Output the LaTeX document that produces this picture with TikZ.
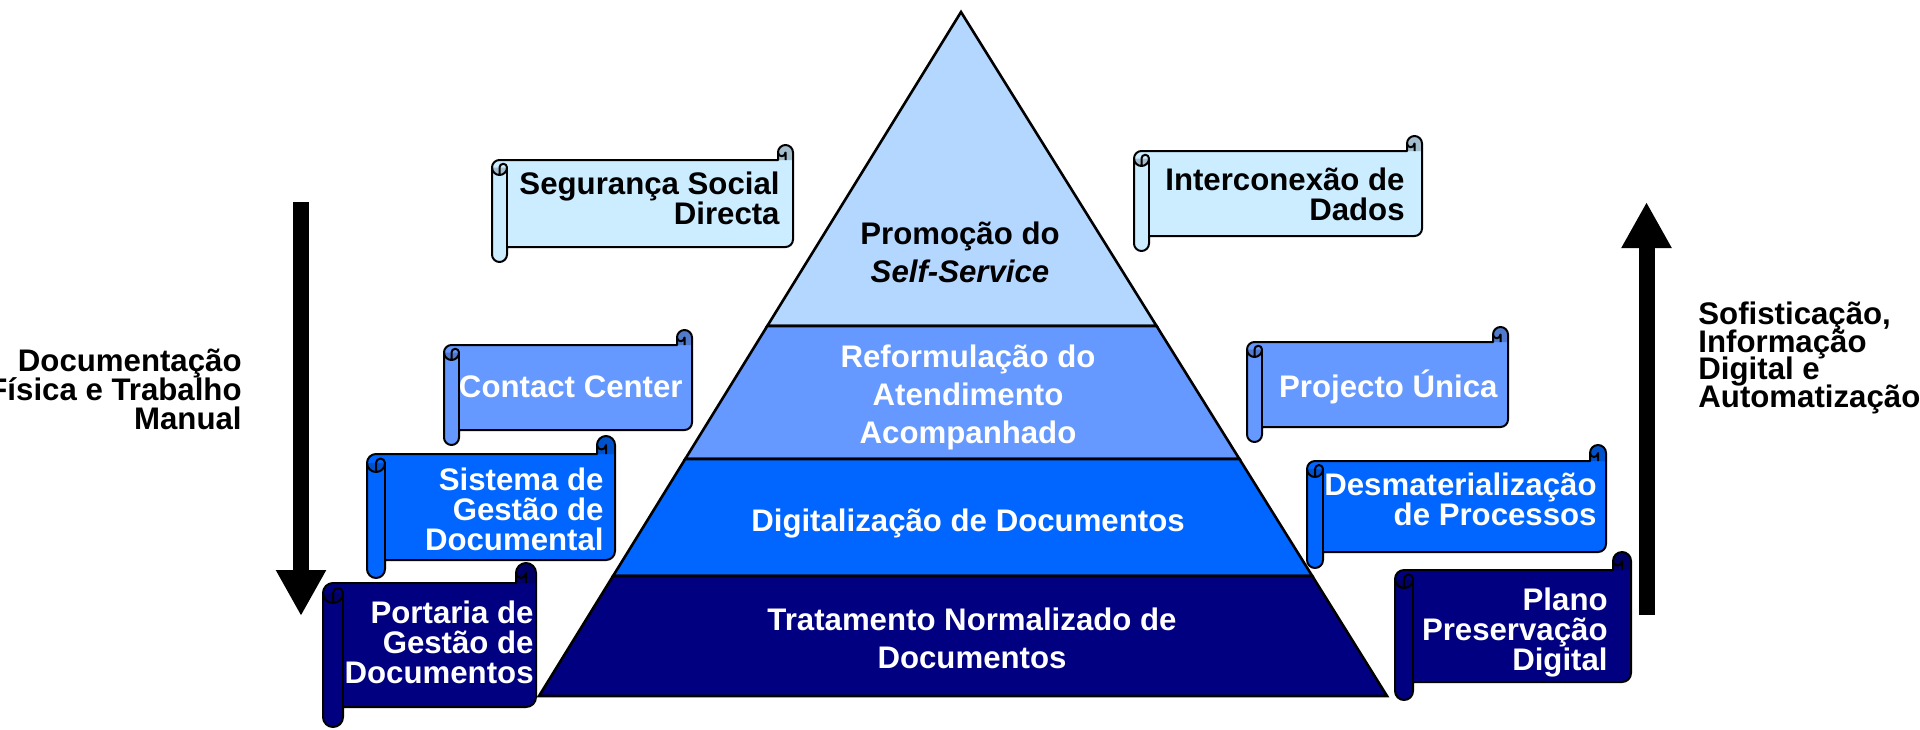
\documentclass[tikz,border=0pt]{standalone}
\usepackage{fontspec}
\setmainfont{Liberation Sans}
\usetikzlibrary{calc,arrows.meta}
\usepackage{xcolor}
\definecolor{lvlA}{HTML}{B4D7FF}
\definecolor{lvlB}{HTML}{6699FF}
\definecolor{lvlC}{HTML}{0066FF}
\definecolor{lvlD}{HTML}{000080}
\definecolor{paleA}{HTML}{CCECFF}
\definecolor{paleAdark}{HTML}{A3BDCC}
\definecolor{lvlBdark}{HTML}{527ACC}
\definecolor{lvlCdark}{HTML}{0052CC}
\definecolor{lvlDdark}{HTML}{000066}
\setlength{\lineskiplimit}{-100pt}

% scroll banner: left, top, right, bottom, roll size, fill, curl fill
\newcommand\scrollshape[7]{%
  \pgfmathsetmacro\sL{#1}\pgfmathsetmacro\sT{#2}%
  \pgfmathsetmacro\sR{#3}\pgfmathsetmacro\sB{#4}%
  \pgfmathsetmacro\sC{#5}\pgfmathsetmacro\sH{#5/2}\pgfmathsetmacro\sQ{#5/4}%
  \def\scrollpath{(\sL,\sT+1.5*\sC) arc[start angle=180,delta angle=90,radius=\sH]
    -- (\sR-\sC,\sT+\sC) -- (\sR-\sC,\sT+\sH)
    arc[start angle=180,delta angle=180,radius=\sH]
    -- (\sR,\sB-1.5*\sC) arc[start angle=0,delta angle=90,radius=\sH]
    -- (\sL+\sC,\sB-\sC) -- (\sL+\sC,\sB-\sH)
    arc[start angle=0,delta angle=180,radius=\sH] -- cycle}%
  \fill[#6] \scrollpath;
  \fill[#7] (\sR-\sC,\sT+\sC) -- (\sR-\sC,\sT+\sH)
    arc[start angle=180,delta angle=180,radius=\sH] -- (\sR,\sT+\sC) -- cycle;
  \fill[#7] (\sL+\sC,\sT+1.5*\sC) arc[start angle=0,delta angle=180,radius=\sH] -- cycle;
  \draw[scrollline] \scrollpath;
  \draw[scrollline] (\sR-\sH,\sT+\sC) -- (\sR-\sH,\sT+\sH)
    arc[start angle=0,delta angle=180,radius=\sQ];
  \draw[scrollline] (\sL+\sH,\sT+2*\sC) -- (\sL+\sH,\sT+1.5*\sC)
    arc[start angle=180,delta angle=180,radius=\sQ]
    arc[start angle=0,delta angle=180,radius=\sH];
  \draw[scrollline] (\sL+\sC,\sT+1.5*\sC) -- (\sL+\sC,\sB-\sC);
}

\begin{document}
\begin{tikzpicture}[
    x=0.5pt, y=-0.5pt,
 band/.style = {
        draw=black, line width=1.3pt, line join=miter},
 scrollline/.style = {
        draw=black, line width=1pt, line join=round},
 scrolltext/.style = {
        font=\bfseries\fontsize{15.6}{15}\selectfont,
        align=right, inner sep=0pt, text=white, anchor=east},
 pyrtext/.style = {
        font=\bfseries\fontsize{15.6}{19}\selectfont,
        align=center, inner sep=0pt, text=white},
 sidetext/.style = {
        font=\bfseries\fontsize{15.6}{14.5}\selectfont,
        inner sep=0pt, text=black},
 bigarrow/.style = {
        line width=8pt, -{Triangle[length=23pt,width=23.5pt]}}
                    ]
\useasboundingbox (0,0) rectangle (1920,729);

% the pyramid
\coordinate (apex) at (961,12);
\coordinate (bl) at (539,696);
\coordinate (br) at (1387,696);
\coordinate (l1) at ($(apex)!0.4591!(bl)$);
\coordinate (r1) at ($(apex)!0.4591!(br)$);
\coordinate (l2) at ($(apex)!0.6535!(bl)$);
\coordinate (r2) at ($(apex)!0.6535!(br)$);
\coordinate (l3) at ($(apex)!0.8246!(bl)$);
\coordinate (r3) at ($(apex)!0.8246!(br)$);
\filldraw[band,fill=lvlA] (apex) -- (l1) -- (r1) -- cycle;
\filldraw[band,fill=lvlB] (l1) -- (l2) -- (r2) -- (r1) -- cycle;
\filldraw[band,fill=lvlC] (l2) -- (l3) -- (r3) -- (r2) -- cycle;
\filldraw[band,fill=lvlD] (l3) -- (bl) -- (br) -- (r3) -- cycle;

\node (selfservice) [pyrtext,text=black] at (960,252.5)
        {Promoção do\\\textit{Self-Service}};
\node (reformulacao) [pyrtext] at (968,397.5)
        {Reformulação do\\Atendimento\\Acompanhado};
\node (digitalizacao) [pyrtext,anchor=base] at (968,531)
        {Digitalização de Documentos};
\node (tratamento) [pyrtext] at (972,638)
        {Tratamento Normalizado de\\Documentos};

% the scrolls on the left
\scrollshape{492}{145}{793}{262}{15}{paleA}{paleAdark}
\node (seguranca) [scrolltext,text=black] at (780,198)
        {Segurança Social\\Directa};
\scrollshape{444}{330}{692}{445}{15}{lvlB}{lvlBdark}
\node (contact) [scrolltext,anchor=base east] at (683,397)
        {Contact Center};
\scrollshape{367}{436}{615}{578}{18}{lvlC}{lvlCdark}
\node (sistema) [scrolltext] at (604,509)
        {Sistema de\\Gestão de\\Documental};
\scrollshape{323}{563}{536}{727}{20}{lvlD}{lvlDdark}
\node (portaria) [scrolltext] at (534,642)
        {Portaria de\\Gestão de\\Documentos};

% the scrolls on the right
\scrollshape{1134}{136}{1422}{251}{15}{paleA}{paleAdark}
\node (interconexao) [scrolltext,text=black] at (1405,194.5)
        {Interconexão de\\Dados};
\scrollshape{1247}{327}{1508}{442}{15}{lvlB}{lvlBdark}
\node (unica) [scrolltext,anchor=base east] at (1498,397)
        {Projecto Única};
\scrollshape{1307}{445}{1606}{568}{16}{lvlC}{lvlCdark}
\node (desmat) [scrolltext] at (1597,499)
        {Desmaterialização\\de Processos};
\scrollshape{1395}{552}{1631}{700}{18}{lvlD}{lvlDdark}
\node (preservacao) [scrolltext] at (1608,632)
        {Plano\\Preservação\\Digital};

% the arrows and their labels
\coordinate (downstart) at (301,202);
\coordinate (downend) at (301,616);
\coordinate (upstart) at (1646.5,615);
\coordinate (upend) at (1646.5,202);
\draw[bigarrow] (downstart) -- (downend);
\draw[bigarrow] (upstart) -- (upend);
\node (manual) [sidetext,align=right,anchor=east] at (242,389.5)
        {Documentação\\Física e Trabalho\\Manual};
\node (sofisticacao) [sidetext,align=left,anchor=west,
        font=\bfseries\fontsize{15.6}{13.85}\selectfont]
        at (1698,358)
        {Sofisticação,\\Informação\\Digital e\\Automatização};
\end{tikzpicture}
\end{document}
